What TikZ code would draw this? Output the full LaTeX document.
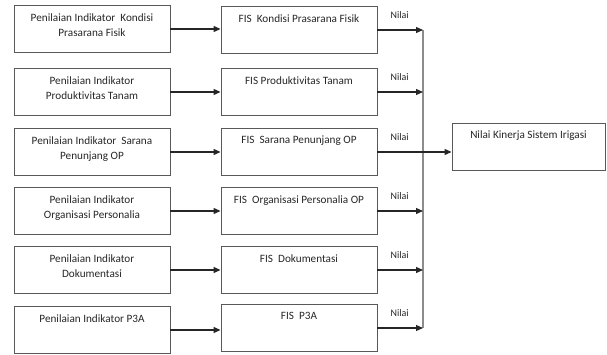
\documentclass[tikz,border=0pt]{standalone}
\usepackage{fontspec}
\setmainfont{Carlito}[Ligatures=NoCommon]
\usetikzlibrary{positioning, arrows.meta}

\begin{document}
\begin{tikzpicture}[x=1pt, y=-1pt,
        box/.style={draw=black!65, line width=0.9pt, minimum width=156pt, minimum height=47pt, inner sep=0pt},
        txt/.style={inner sep=0pt, align=center, font=\fontsize{11.2}{15}\selectfont, text=black!85},
        nilai/.style={inner sep=0pt, font=\fontsize{10}{12}\selectfont, text=black!85},
        arr/.style={-{Triangle[length=7pt,width=6pt]}, line width=1.2pt, black!85},
        bus/.style={line width=1.2pt, black!45}]
        \useasboundingbox (0,0) rectangle (607,355);
        % penilaian indikator
        \node[box] (p1) at (92,29) {};
        \node[box] (p2) at (92,92) {};
        \node[box] (p3) at (92,152) {};
        \node[box] (p4) at (92,211) {};
        \node[box] (p5) at (92,270) {};
        \node[box] (p6) at (92,330) {};
        \node[txt, below=8pt of p1.north] (tp1) {Penilaian Indikator~ Kondisi\\Prasarana Fisik};
        \node[txt, below=8pt of p2.north] (tp2) {Penilaian Indikator\\Produktivitas Tanam};
        \node[txt, below=8pt of p3.north] (tp3) {Penilaian Indikator~ Sarana\\Penunjang OP};
        \node[txt, below=8pt of p4.north] (tp4) {Penilaian Indikator\\Organisasi Personalia};
        \node[txt, below=8pt of p5.north] (tp5) {Penilaian Indikator\\Dokumentasi};
        \node[txt, below=8pt of p6.north] (tp6) {Penilaian Indikator P3A};
        % FIS
        \node[box] (f1) at (299,30) {};
        \node[box] (f2) at (299,92) {};
        \node[box] (f3) at (299,152) {};
        \node[box] (f4) at (299,211) {};
        \node[box] (f5) at (299,270) {};
        \node[box] (f6) at (299,328) {};
        \node[txt, below=8pt of f1.north] (tf1) {FIS~ Kondisi Prasarana Fisik};
        \node[txt, below=8pt of f2.north] (tf2) {FIS Produktivitas Tanam};
        \node[txt, below=8pt of f3.north] (tf3) {FIS~ Sarana Penunjang OP};
        \node[txt, below=8pt of f4.north] (tf4) {FIS~ Organisasi Personalia OP};
        \node[txt, below=8pt of f5.north] (tf5) {FIS~ Dokumentasi};
        \node[txt, below=8pt of f6.north] (tf6) {FIS~ P3A};
        % hasil
        \node[box, minimum width=153pt] (r) at (528.5,146.5) {};
        \node[txt, below=8pt of r.north] (tr) {Nilai Kinerja Sistem Irigasi};
        \coordinate (bt) at (423,30);
        \coordinate (bb) at (423,328);
        \draw[bus] (bt) -- (bb);
        \draw[arr] (p1.east) -- (p1.east -| f1.west);
        \draw[arr] (p2.east) -- (p2.east -| f2.west);
        \draw[arr] (p3.east) -- (p3.east -| f3.west);
        \draw[arr] (p4.east) -- (p4.east -| f4.west);
        \draw[arr] (p5.east) -- (p5.east -| f5.west);
        \draw[arr] (p6.east) -- (p6.east -| f6.west);
        \draw[arr] (f1.east) -- (f1.east -| bt);
        \draw[arr] (f2.east) -- (f2.east -| bt);
        \draw[arr] (f3.east) -- (f3.east -| r.west);
        \draw[arr] (f4.east) -- (f4.east -| bt);
        \draw[arr] (f5.east) -- (f5.east -| bt);
        \draw[arr] (f6.east) -- (f6.east -| bt);
        \node[nilai, above right=11pt and 13pt of f1.east] (n1) {Nilai};
        \node[nilai, above right=11pt and 13pt of f2.east] (n2) {Nilai};
        \node[nilai, above right=11pt and 13pt of f3.east] (n3) {Nilai};
        \node[nilai, above right=11pt and 13pt of f4.east] (n4) {Nilai};
        \node[nilai, above right=11pt and 13pt of f5.east] (n5) {Nilai};
        \node[nilai, above right=11pt and 13pt of f6.east] (n6) {Nilai};
\end{tikzpicture}
\end{document}
